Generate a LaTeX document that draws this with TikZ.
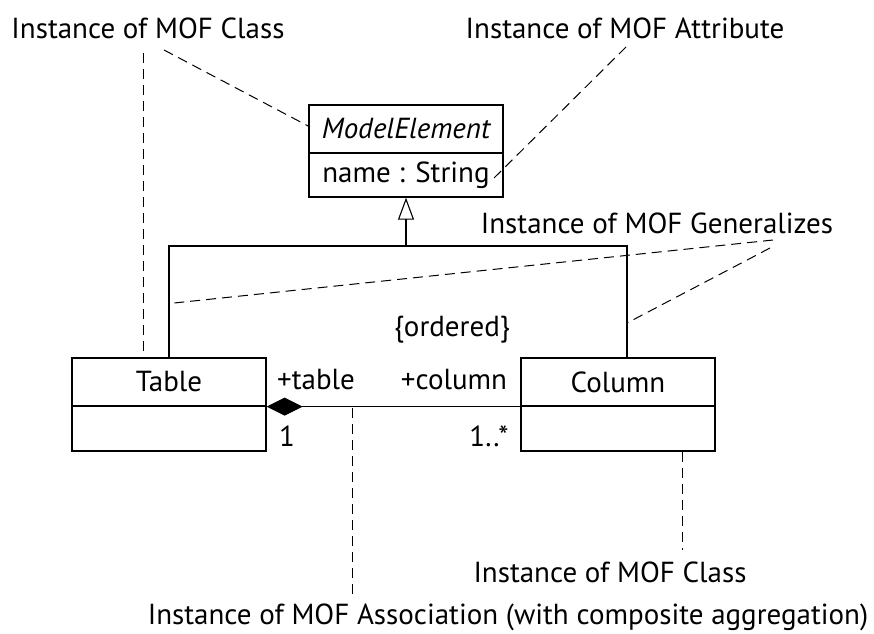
\documentclass[tikz,border=0pt]{standalone}
\usepackage{fontspec}
\setmainfont{PT Sans}
\usetikzlibrary{arrows.meta}
\begin{document}
\begin{tikzpicture}[x=1pt,y=-1pt,
  every node/.style={font=\fontsize{29}{32}\selectfont},
  box/.style={draw,line width=1.3pt,minimum width=194pt,inner sep=0pt},
  note/.style={inner sep=0pt},
  lbl/.style={inner sep=0pt},
  link/.style={line width=1.1pt},
  hint/.style={line width=1pt,dash pattern=on 10pt off 6pt}]
\useasboundingbox (0,0) rectangle (874,633);

% ModelElement class
\node[box,minimum height=48pt] (metop) at (406,129) {\itshape ModelElement};
\node[box,minimum height=44pt] (mebot) at (406,175) {name : String};

% Table and Column classes
\node[box,minimum height=48pt] (tabtop) at (169,382) {Table};
\node[box,minimum height=45pt] (tabbot) at (169,428.5) {};
\node[box,minimum height=48pt] (coltop) at (618,382) {Column};
\node[box,minimum height=45pt] (colbot) at (618,428.5) {};

% Generalization
\coordinate (gj) at (406,246);
\coordinate (colj) at ([xshift=9pt]coltop.north);
\draw[link,-{Triangle[open,length=22pt,width=16pt]}] (gj) -- (mebot.south);
\draw[link] (tabtop.north) |- (gj) -| (colj);

% Composite association
\draw[link,{Diamond[length=36pt,width=18pt]}-] (tabtop.south east) -- (coltop.south west);
\node[lbl] (rtab) at (316,380) {+table};
\node[lbl] (rcol) at (454,380) {+column};
\node[lbl] (ord) at (452,330) {\{ordered\}};
\node[lbl] (m1) at (287,436) {1};
\node[lbl] (mn) at (489,436) {1..*};

% Annotations
\node[note] (nclass) at (148,28) {Instance of MOF Class};
\node[note] (nattr) at (625,28) {Instance of MOF Attribute};
\node[note] (ngen) at (657,223) {Instance of MOF Generalizes};
\node[note] (nclass2) at (610,572) {Instance of MOF Class};
\node[note] (nassoc) at (508,617) {Instance of MOF Association (with composite aggregation)};

\coordinate (a1) at (143,53);
\coordinate (a1e) at (143,358);
\coordinate (a2) at (164,50);
\coordinate (a2e) at (310,127);
\coordinate (a3) at (626,47);
\coordinate (a3e) at (494,178);
\coordinate (g0) at (773,240);
\coordinate (g0e) at (174,303);
\coordinate (g1) at (770,248);
\coordinate (g1e) at (627,323);
\coordinate (s0) at (352,408);
\coordinate (s0e) at (352,597);
\coordinate (c0) at (682,452);
\coordinate (c0e) at (682,550);

\draw[hint] (a1) -- (a1e);
\draw[hint] (a2) -- (a2e);
\draw[hint] (a3) -- (a3e);
\draw[hint] (g0) -- (g0e);
\draw[hint] (g1) -- (g1e);
\draw[hint] (s0) -- (s0e);
\draw[hint] (c0) -- (c0e);
\end{tikzpicture}
\end{document}
